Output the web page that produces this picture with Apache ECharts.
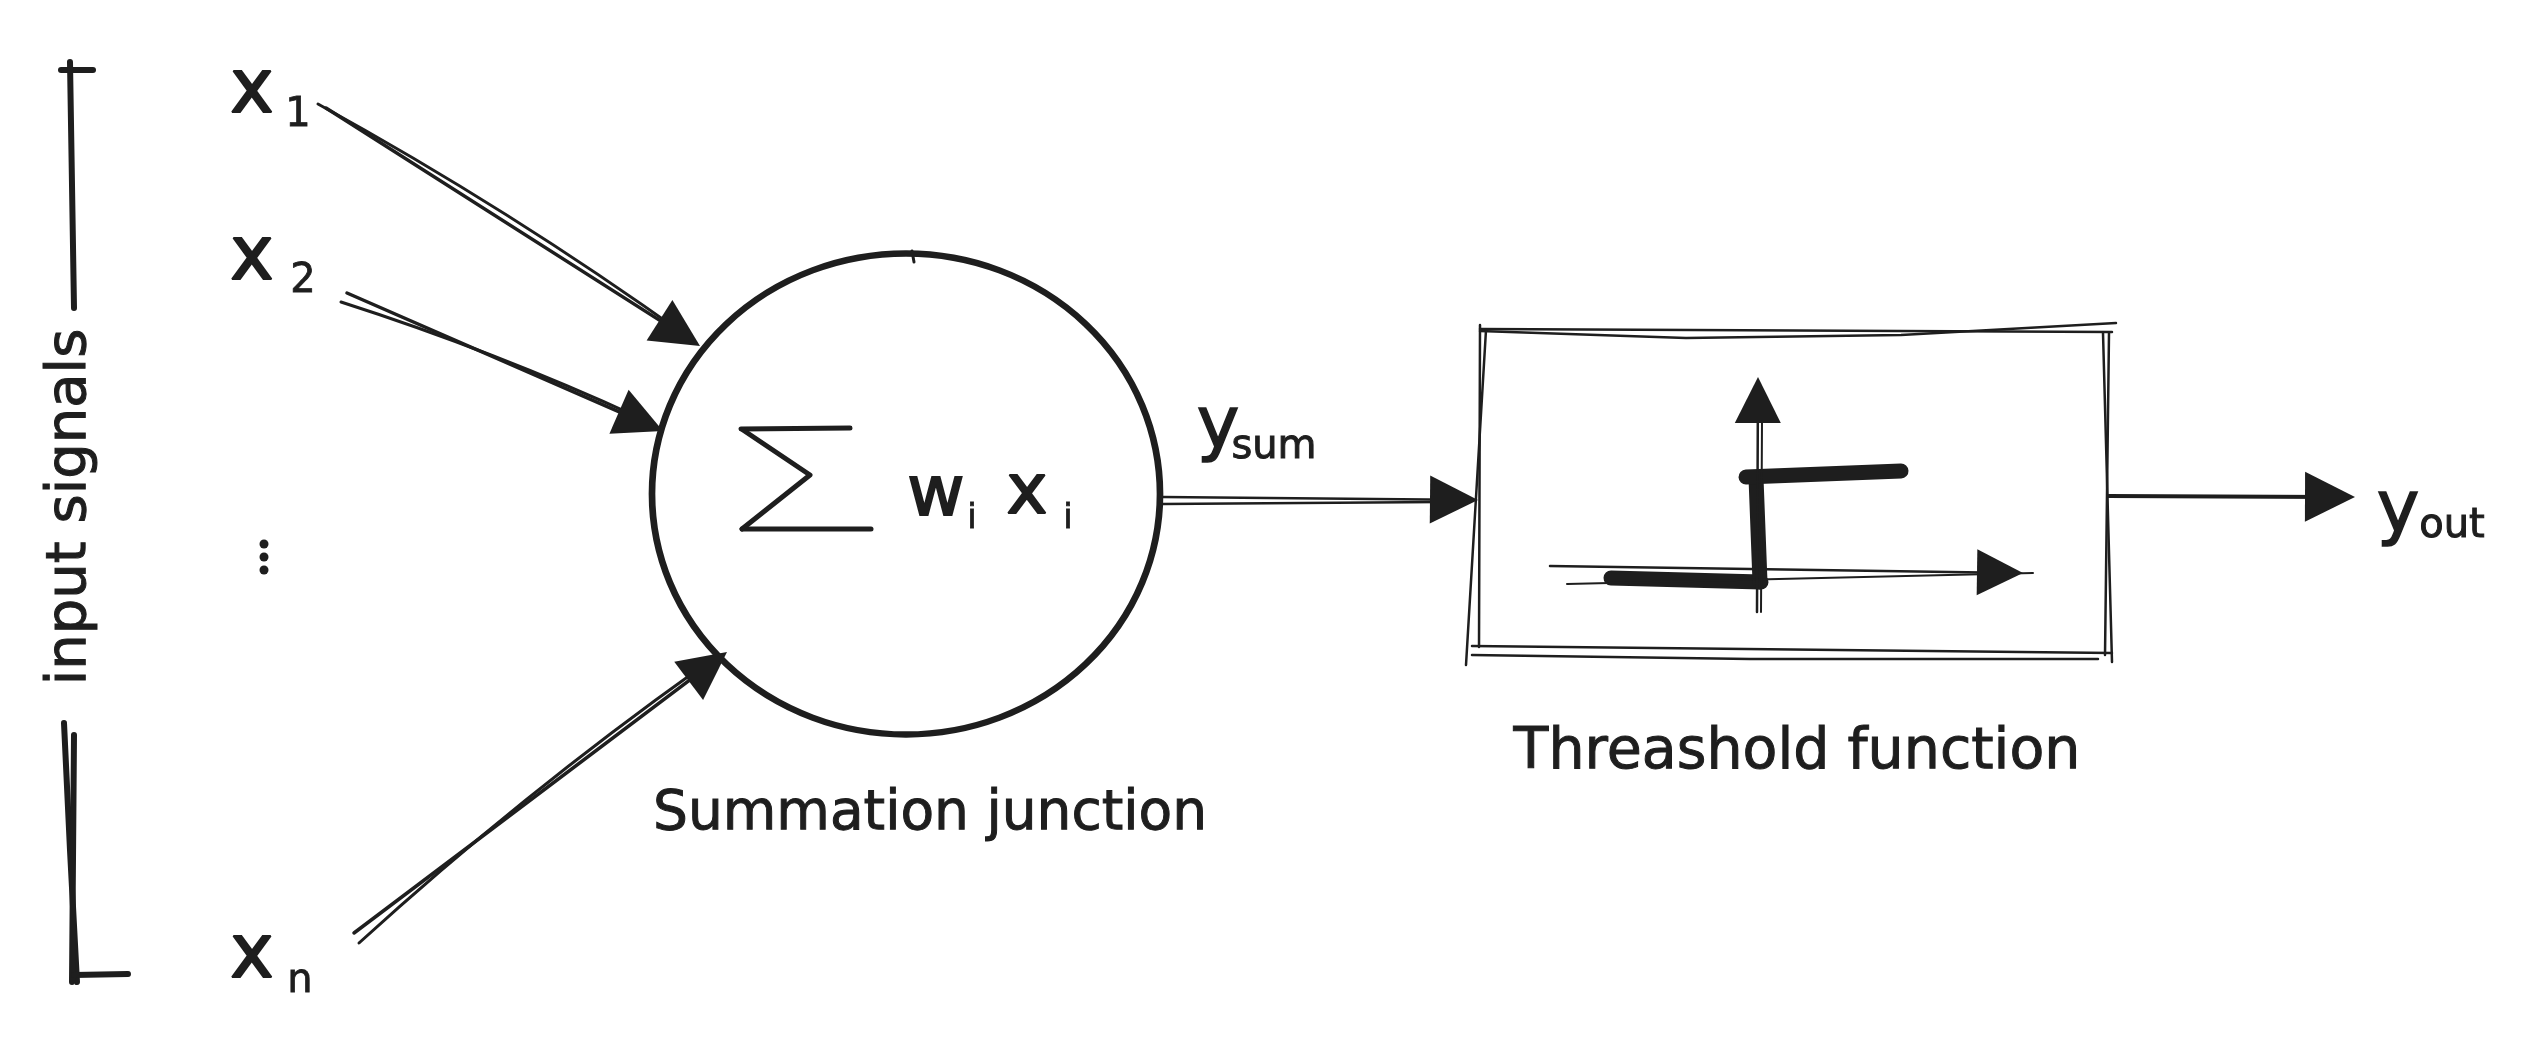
<!DOCTYPE html>
<html>
<head>
<meta charset="utf-8">
<script src="https://cdn.jsdelivr.net/npm/echarts@6/dist/echarts.min.js"></script>
<style>
html,body{margin:0;padding:0;background:#ffffff;overflow:hidden;}
#chart{width:2522px;height:1039px;}
</style>
</head>
<body>
<div id="chart"></div>
<script>
// ---------- diagram data (sketch coordinates: x right, y down) ----------
const inputSymbols = ['x', 'x', 'x'];
const inputSubscripts = ['1', '2', 'n'];
const inputSymbolPos = [[252, 93], [252, 260], [252, 958]];
const inputSubscriptPos = [[298, 116], [303, 282], [300, 982]];
const ellipsisDots = [[264, 544], [264, 557], [264, 570]];

const captions = ['input signals', 'Summation junction', 'Threashold function'];
const captionPos = [[70, 507], [930, 815], [1797, 753]];

const sumTerms = ['w', 'i', 'x', 'i'];
const sumTermPos = [[936, 497], [972, 519], [1027, 495], [1068, 519]];

const signalNames = ['y', 'sum', 'y', 'out'];
const signalNamePos = [[1218, 428], [1274, 448], [2398, 512], [2452, 527]];

const neuronCenter = [906, 494];
const neuronExtent = [508, 481];
const neuronMark = [[912, 251], [914, 262]];

// arrows: [start, tip]
const inputArrows = [
  [[326, 108], [700, 346]],
  [[347, 293], [663, 431]],
  [[354, 933], [727, 652]]
];
const inputArrowEchoes = [
  [[318, 104], [688, 337]],
  [[341, 302], [640, 418]],
  [[359, 943], [700, 668]]
];
const sumArrow = [[[1163, 497], [1478, 500]]];
const sumArrowEcho = [[[1163, 504], [1440, 502]]];
const outArrow = [[[2108, 496], [2355, 497]]];

const bracketStrokes = [
  [[61, 70], [93, 70]],
  [[70, 62], [74, 308]],
  [[64, 723], [70, 850], [77, 982]],
  [[74, 735], [72, 982]],
  [[74, 975], [128, 974]]
];
const sigmaStrokes = [
  [[741, 429], [850, 428]],
  [[743, 430], [810, 475], [742, 529]],
  [[742, 529], [871, 529]]
];
const boxStrokes = [
  [[1480, 329], [2112, 332]],
  [[1480, 331], [1686, 338], [1901, 335], [2116, 323]],
  [[2103, 333], [2112, 662]],
  [[2109, 333], [2105, 655]],
  [[1472, 646], [2112, 653]],
  [[1472, 655], [1750, 659], [2098, 659]],
  [[1480, 325], [1479, 647]],
  [[1486, 330], [1466, 665]]
];
const stepAxisArrows = [
  [[1550, 566], [2023, 573]],
  [[1757, 612], [1758, 377]]
];
const stepAxisEchoes = [
  [[1567, 584], [2033, 573]],
  [[1761, 612], [1762, 420]]
];
const stepStrokes = [
  [[1611, 578], [1761, 582]],
  [[1760, 582], [1756, 478]],
  [[1746, 477], [1901, 471]]
];

// ---------- build chart ----------
const ink = '#1e1e1e';
const font = 'DejaVu Sans';

function pullBack(a, b, d) {
  const dx = b[0] - a[0], dy = b[1] - a[1];
  const L = Math.sqrt(dx * dx + dy * dy);
  return [b[0] - dx / L * d, b[1] - dy / L * d];
}
function polySeries(strokes, width) {
  return {
    type: 'lines', coordinateSystem: 'cartesian2d', polyline: true, silent: true,
    lineStyle: { color: ink, width: width, opacity: 1, cap: 'round', join: 'round' },
    data: strokes.map(c => ({ coords: c }))
  };
}
function plainSeries(segs, width, curveness) {
  return {
    type: 'lines', coordinateSystem: 'cartesian2d', silent: true,
    symbol: ['none', 'none'],
    lineStyle: { color: ink, width: width, opacity: 1, cap: 'round', curveness: curveness },
    data: segs.map(c => ({ coords: c }))
  };
}
function arrowSeries(arrows, width, head) {
  return {
    type: 'lines', coordinateSystem: 'cartesian2d', silent: true,
    symbol: ['none', 'triangle'], symbolSize: head,
    lineStyle: { color: ink, width: width, opacity: 1, cap: 'round' },
    itemStyle: { color: ink, opacity: 1 },
    data: arrows.map(a => ({ coords: [a[0], pullBack(a[0], a[1], head[1] / 2)] }))
  };
}
function textSeries(texts, pos, size, rotate, stroke) {
  return {
    type: 'scatter', silent: true, symbolSize: 1,
    itemStyle: { color: 'rgba(0,0,0,0)', opacity: 1 },
    label: {
      show: true, position: 'inside', color: ink, opacity: 1, fontFamily: font,
      fontSize: size, rotate: rotate || 0, align: 'center', verticalAlign: 'middle',
      textBorderColor: ink, textBorderWidth: stroke || 0,
      formatter: p => texts[p.dataIndex]
    },
    data: pos.map(p => p.slice())
  };
}

const chart = echarts.init(document.getElementById('chart'), null, { renderer: 'canvas' });
chart.setOption({
  backgroundColor: '#ffffff',
  animation: false,
  grid: { left: 0, right: 0, top: 0, bottom: 0 },
  xAxis: { type: 'value', min: 0, max: 2522, show: false },
  yAxis: { type: 'value', min: 0, max: 1039, inverse: true, show: false },
  series: [
    // neuron body
    {
      type: 'scatter', silent: true, symbol: 'circle', symbolSize: neuronExtent,
      itemStyle: { color: 'rgba(0,0,0,0)', borderColor: ink, borderWidth: 6.5, opacity: 1 },
      data: [neuronCenter]
    },
    polySeries([neuronMark], 3),
    polySeries(bracketStrokes, 6),
    polySeries(sigmaStrokes, 5),
    polySeries(boxStrokes, 2.5),
    polySeries(stepStrokes, 15),
    plainSeries(inputArrowEchoes, 3, 0.03),
    arrowSeries(inputArrows, 3.5, [40, 48]),
    plainSeries(sumArrowEcho, 2.5, 0),
    arrowSeries(sumArrow, 2.5, [44, 48]),
    arrowSeries(outArrow, 4, [43, 50]),
    plainSeries(stepAxisEchoes, 2, 0),
    arrowSeries(stepAxisArrows, 2.5, [40, 46]),
    {
      type: 'scatter', silent: true, symbol: 'circle', symbolSize: 9,
      itemStyle: { color: ink, opacity: 1 }, data: ellipsisDots
    },
    textSeries(inputSymbols, inputSymbolPos, 74, 0, 2),
    textSeries(inputSubscripts, inputSubscriptPos, 40, 0, 0.8),
    textSeries([captions[0]], [captionPos[0]], 56, 90, 1),
    textSeries(captions.slice(1, 2), captionPos.slice(1, 2), 55, 0, 1),
    textSeries(captions.slice(2), captionPos.slice(2), 57, 0, 1),
    textSeries(sumTerms.filter((t, i) => i % 2 === 0), sumTermPos.filter((t, i) => i % 2 === 0), 70, 0, 2),
    textSeries(sumTerms.filter((t, i) => i % 2 === 1), sumTermPos.filter((t, i) => i % 2 === 1), 34, 0, 0.8),
    textSeries(signalNames.filter((t, i) => i % 2 === 0), signalNamePos.filter((t, i) => i % 2 === 0), 72, 0, 1.5),
    textSeries(signalNames.filter((t, i) => i % 2 === 1), signalNamePos.filter((t, i) => i % 2 === 1), 40, 0, 1)
  ]
});
</script>
</body>
</html>
